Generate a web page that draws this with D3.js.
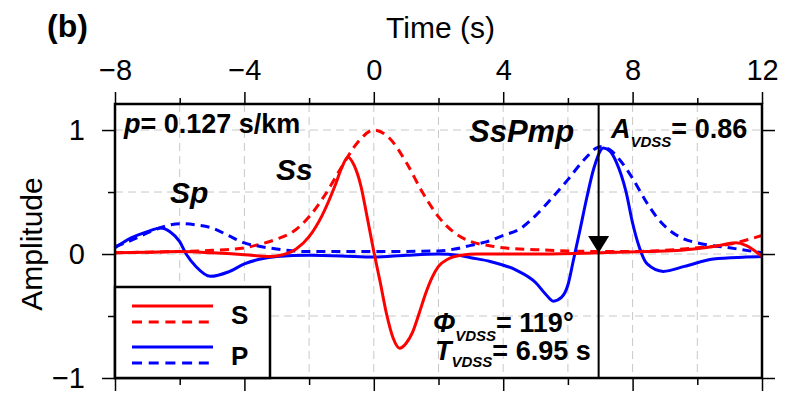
<!DOCTYPE html>
<html>
<head>
<meta charset="utf-8">
<script src="https://cdn.jsdelivr.net/npm/d3@7"></script>
<style>
  body { margin: 0; background: #fff; }
  svg text { font-family: "Liberation Sans", Arial, Helvetica, sans-serif; }
</style>
</head>
<body>
<svg id="chart" width="796" height="396"></svg>
<script>
// x ticks (time, s) and y ticks (amplitude)
var xMajor = [-8, -4, 0, 4, 8, 12];
var xMinor = [-6, -2, 2, 6, 10];
var yMajor = [-1, 0, 1];
var yMinor = [-0.5, 0.5];

// traces: [time, amplitude]
var sSolid = [[-8,0.01],[-7,0.015],[-6,0.02],[-5,0.01],[-4,-0.005],[-3.2,-0.02],[-2.8,-0.005],[-2.4,0.04],[-2.0,0.14],[-1.6,0.31],[-1.2,0.55],[-1.0,0.69],[-0.8,0.78],[-0.6,0.71],[-0.4,0.55],[-0.2,0.29],[0,0.02],[0.2,-0.23],[0.4,-0.49],[0.6,-0.68],[0.8,-0.76],[1.0,-0.72],[1.2,-0.63],[1.4,-0.48],[1.6,-0.32],[1.8,-0.19],[2.0,-0.10],[2.3,-0.04],[2.7,-0.01],[3.2,0.0],[5,0.0],[7,0.01],[8.5,0.02],[9.5,0.03],[10.5,0.06],[11.2,0.09],[11.5,0.07],[12,-0.02]];
var sDashed = [[-8,0.01],[-7,0.015],[-6,0.02],[-5,0.03],[-4,0.05],[-3.5,0.08],[-3,0.12],[-2.5,0.18],[-2,0.30],[-1.5,0.48],[-1,0.70],[-0.5,0.90],[0,1.0],[0.5,0.93],[1,0.74],[1.5,0.50],[2,0.30],[2.5,0.17],[3,0.10],[3.5,0.07],[4,0.05],[5,0.035],[6,0.025],[7,0.02],[8,0.02],[9,0.03],[10,0.05],[11,0.08],[12,0.15]];
var pSolid = [[-8,0.05],[-7.5,0.13],[-7,0.18],[-6.6,0.21],[-6.3,0.18],[-6.0,0.10],[-5.8,0.0],[-5.5,-0.10],[-5.05,-0.18],[-4.5,-0.145],[-4,-0.08],[-3.5,-0.04],[-3,-0.02],[-2,-0.01],[-1,-0.015],[0,-0.025],[1,-0.01],[2,0.0],[2.6,-0.01],[3,-0.03],[3.6,-0.06],[4.4,-0.13],[5,-0.23],[5.3,-0.32],[5.55,-0.38],[5.8,-0.35],[6.0,-0.25],[6.17,-0.05],[6.37,0.19],[6.58,0.45],[6.8,0.69],[7.1,0.855],[7.3,0.83],[7.5,0.74],[7.8,0.50],[8.0,0.25],[8.2,0.06],[8.45,-0.08],[8.95,-0.14],[9.6,-0.10],[10.5,-0.04],[11.5,-0.025],[12,-0.02]];
var pDashed = [[-8,0.06],[-7.5,0.11],[-7,0.17],[-6.5,0.22],[-6,0.245],[-5.5,0.235],[-5,0.21],[-4.5,0.15],[-4,0.09],[-3.5,0.06],[-3,0.04],[-2.5,0.025],[-2,0.02],[0,0.02],[2,0.025],[2.5,0.04],[3,0.07],[3.5,0.10],[4,0.15],[4.5,0.20],[5,0.31],[5.5,0.45],[6,0.60],[6.5,0.76],[7,0.865],[7.3,0.84],[7.6,0.76],[8,0.61],[8.4,0.43],[8.8,0.28],[9.2,0.18],[9.6,0.12],[10,0.09],[11,0.05],[12,0.01]];

var tVdss = 6.95;

var svg = d3.select("#chart");
var margin = {top: 104, right: 34, bottom: 18, left: 115},
    width = 796 - margin.left - margin.right,
    height = 396 - margin.top - margin.bottom;

var x = d3.scaleLinear().domain([-8, 12]).range([0, width]);
var y = d3.scaleLinear().domain([-1, 1.21]).range([height, 0]);

var g = svg.append("g")
    .attr("transform", "translate(" + margin.left + "," + margin.top + ")");

// dashed grid
var grid = g.append("g").attr("stroke", "#c8c8c8").attr("stroke-width", 1).attr("stroke-dasharray", "8,5");
grid.selectAll("line.gx")
    .data(xMinor.concat(xMajor.slice(1, -1)))
    .enter().append("line")
    .attr("x1", function(d) { return x(d); }).attr("x2", function(d) { return x(d); })
    .attr("y1", 0).attr("y2", height);
grid.selectAll("line.gy")
    .data([-0.5, 0, 0.5, 1])
    .enter().append("line")
    .attr("y1", function(d) { return y(d); }).attr("y2", function(d) { return y(d); })
    .attr("x1", 0).attr("x2", width);

g.append("clipPath").attr("id", "clip")
  .append("rect").attr("width", width).attr("height", height);

var line = d3.line()
    .x(function(d) { return x(d[0]); })
    .y(function(d) { return y(d[1]); })
    .curve(d3.curveMonotoneX);

var traces = [
  {data: sDashed, color: "#ff0000", dash: "9,6"},
  {data: pDashed, color: "#0000ff", dash: "9,6"},
  {data: pSolid, color: "#0000ff", dash: null},
  {data: sSolid, color: "#ff0000", dash: null}
];

var plot = g.append("g").attr("clip-path", "url(#clip)");
plot.selectAll("path.trace")
    .data(traces)
    .enter().append("path")
    .attr("class", "trace")
    .attr("fill", "none")
    .attr("stroke", function(d) { return d.color; })
    .attr("stroke-width", 3)
    .attr("stroke-dasharray", function(d) { return d.dash; })
    .attr("d", function(d) { return line(d.data); });

// vertical marker at T_VDSS with arrow
g.append("line")
    .attr("x1", x(tVdss)).attr("x2", x(tVdss))
    .attr("y1", 0).attr("y2", height)
    .attr("stroke", "#000").attr("stroke-width", 2);
g.append("path")
    .attr("d", "M" + (x(tVdss) - 10.5) + "," + (y(0) - 18) + "L" + (x(tVdss) + 10.5) + "," + (y(0) - 18) + "L" + x(tVdss) + "," + (y(0) - 1) + "Z")
    .attr("fill", "#000");

// axes
function styleAxis(sel) {
  sel.selectAll(".domain").remove();
  sel.selectAll("line").attr("stroke", "#000").attr("stroke-width", 1.5);
  sel.selectAll("text").attr("fill", "#000").style("font-size", "29px");
}
function minusFmt(d) { return d < 0 ? "\u2212" + Math.abs(d) : d; }

g.append("g")
    .call(d3.axisTop(x).tickValues(xMajor).tickSize(12).tickPadding(12).tickFormat(minusFmt))
    .call(styleAxis);
g.append("g")
    .call(d3.axisTop(x).tickValues(xMinor).tickSize(6).tickFormat(""))
    .call(styleAxis);
g.append("g").attr("transform", "translate(0," + height + ")")
    .call(d3.axisBottom(x).tickValues(xMajor).tickSize(13).tickFormat(""))
    .call(styleAxis);
g.append("g").attr("transform", "translate(0," + height + ")")
    .call(d3.axisBottom(x).tickValues(xMinor).tickSize(7).tickFormat(""))
    .call(styleAxis);
g.append("g")
    .call(d3.axisLeft(y).tickValues(yMajor).tickSize(13).tickPadding(17).tickFormat(minusFmt))
    .call(styleAxis);
g.append("g")
    .call(d3.axisLeft(y).tickValues(yMinor).tickSize(7).tickFormat(""))
    .call(styleAxis);
g.append("g").attr("transform", "translate(" + width + ",0)")
    .call(d3.axisRight(y).tickValues(yMajor).tickSize(13).tickFormat(""))
    .call(styleAxis);
g.append("g").attr("transform", "translate(" + width + ",0)")
    .call(d3.axisRight(y).tickValues(yMinor).tickSize(7).tickFormat(""))
    .call(styleAxis);

// frame
g.append("rect")
    .attr("width", width).attr("height", height)
    .attr("fill", "none").attr("stroke", "#000").attr("stroke-width", 2.5);

// axis titles
svg.append("text")
    .attr("x", margin.left + width / 2 + 2).attr("y", 38)
    .attr("text-anchor", "middle").style("font-size", "30px")
    .text("Time (s)");
svg.append("text")
    .attr("transform", "translate(42,244)rotate(-90)")
    .attr("text-anchor", "middle").style("font-size", "30px")
    .text("Amplitude");
svg.append("text")
    .attr("x", 47).attr("y", 37)
    .style("font-size", "32px").style("font-weight", "bold")
    .text("(b)");

// legend
var leg = g.append("g").attr("transform", "translate(0," + (height - 91) + ")");
leg.append("rect")
    .attr("width", 155).attr("height", 91)
    .attr("fill", "#fff").attr("stroke", "#000").attr("stroke-width", 2.5);
var legItems = [
  {label: "S", color: "#ff0000", y: 19},
  {label: "P", color: "#0000ff", y: 60}
];
legItems.forEach(function(it) {
  leg.append("line").attr("x1", 17).attr("x2", 98).attr("y1", it.y).attr("y2", it.y)
    .attr("stroke", it.color).attr("stroke-width", 3);
  leg.append("line").attr("x1", 17).attr("x2", 98).attr("y1", it.y + 16).attr("y2", it.y + 16)
    .attr("stroke", it.color).attr("stroke-width", 3).attr("stroke-dasharray", "10,6.7");
  leg.append("text").attr("x", 116).attr("y", it.y + 18)
    .style("font-size", "26px").style("font-weight", "bold").text(it.label);
});

// annotations
var ann = svg.append("g").style("font-weight", "bold");
var t1 = ann.append("text").attr("x", 124).attr("y", 133).style("font-size", "27px");
t1.append("tspan").style("font-style", "italic").text("p");
t1.append("tspan").text("= 0.127 s/km");

ann.append("text").attr("x", 170).attr("y", 203).style("font-size", "30px")
    .style("font-style", "italic").text("Sp");
ann.append("text").attr("x", 276).attr("y", 180).style("font-size", "30px")
    .style("font-style", "italic").text("Ss");
ann.append("text").attr("x", 469).attr("y", 142).style("font-size", "31px")
    .style("font-style", "italic").text("SsPmp");

function subLabel(xp, yp, sym, val, dy) {
  var t = ann.append("text").attr("x", xp).attr("y", yp).style("font-size", "27px");
  t.append("tspan").style("font-style", "italic").text(sym);
  t.append("tspan").style("font-style", "italic").style("font-size", "15px").attr("dy", dy).text("VDSS");
  t.append("tspan").attr("dy", -dy).text("= " + val);
}
subLabel(611, 138, "A", "0.86", 9);
subLabel(433, 332, "\u03A6", "119\u00B0", 9);
subLabel(435, 360, "T", "6.95 s", 7);
</script>
</body>
</html>
